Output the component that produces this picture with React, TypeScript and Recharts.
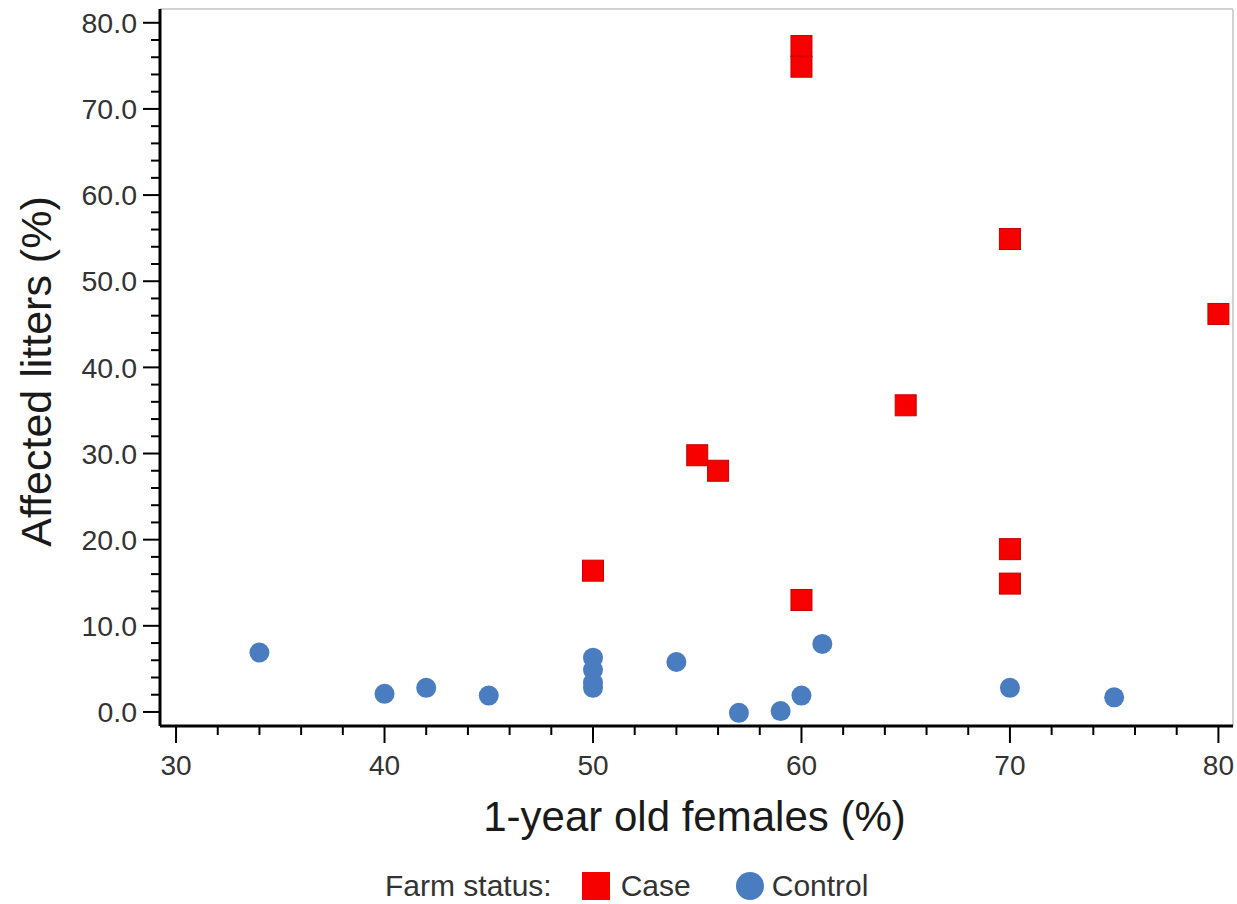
import React from 'react';
import {
  ReferenceLine,
  Scatter,
  ScatterChart,
  XAxis,
  YAxis,
} from 'recharts';

// farm status: case
const caseX = [60, 60, 70, 80, 65, 55, 56, 50, 60, 70, 70];
const caseY = [77.3, 74.9, 54.9, 46.2, 35.6, 29.8, 28.0, 16.4, 13.0, 18.9, 14.9];

// farm status: control
const controlX = [34, 40, 42, 45, 50, 50, 50, 50, 54, 57, 59, 60, 61, 70, 75];
const controlY = [6.9, 2.1, 2.8, 1.9, 6.3, 4.9, 3.4, 2.8, 5.8, -0.1, 0.1, 1.9, 7.9, 2.8, 1.7];

const xTicks = [30, 32, 34, 36, 38, 40, 42, 44, 46, 48, 50, 52, 54, 56, 58, 60, 62, 64, 66, 68, 70, 72, 74, 76, 78, 80];
const yTicks = [0, 2, 4, 6, 8, 10, 12, 14, 16, 18, 20, 22, 24, 26, 28, 30, 32, 34, 36, 38, 40, 42, 44, 46, 48, 50, 52, 54, 56, 58, 60, 62, 64, 66, 68, 70, 72, 74, 76, 78, 80];

const X_DOMAIN: [number, number] = [29.23, 80.7];
const Y_DOMAIN: [number, number] = [-1.63, 81.6];

const FONT = '"Liberation Sans", Arial, sans-serif';
const RED = '#f60000';
const BLUE = '#4a7cc0';

const caseData = caseX.map((x, i) => ({ x, y: caseY[i] }));
const controlData = controlX.map((x, i) => ({ x, y: controlY[i] }));

const XTick = (props: any) => {
  const { x, y, payload } = props;
  const major = payload.value % 10 === 0;
  return (
    <g>
      <line x1={x} x2={x} y1={y} y2={y + (major ? 17 : 9)} stroke="#000" strokeWidth={2} />
      {major && (
        <text x={x} y={y + 49} textAnchor="middle" fontSize={28} fill="#333" fontFamily={FONT}>
          {payload.value}
        </text>
      )}
    </g>
  );
};

const YTick = (props: any) => {
  const { x, y, payload } = props;
  const major = payload.value % 10 === 0;
  return (
    <g>
      <line x1={x - (major ? 17 : 9)} x2={x} y1={y} y2={y} stroke="#000" strokeWidth={2} />
      {major && (
        <text x={x - 23} y={y} dy="0.36em" textAnchor="end" fontSize={28.5} fill="#333" fontFamily={FONT}>
          {payload.value.toFixed(1)}
        </text>
      )}
    </g>
  );
};

const squareShape = (p: any) => (
  <rect x={p.cx - 10.5} y={p.cy - 10.5} width={21} height={21} fill={RED} stroke="#c80000" strokeWidth={1} />
);

const circleShape = (p: any) => <circle cx={p.cx} cy={p.cy} r={10} fill={BLUE} />;

export default function App() {
  return (
    <div style={{ position: 'absolute', left: 0, top: 0, width: 1237, height: 904, background: '#fff' }}>
      <ScatterChart width={1237} height={904} margin={{ top: 9, right: 4, bottom: 78, left: 0 }}>
        <XAxis
          type="number"
          dataKey="x"
          domain={X_DOMAIN}
          ticks={xTicks}
          interval={0}
          allowDataOverflow
          height={100}
          tickSize={0}
          tickMargin={0}
          tickLine={false}
          axisLine={{ stroke: '#000', strokeWidth: 3 }}
          tick={<XTick />}
          label={{
            content: ({ viewBox }: any) => (
              <text
                x={viewBox.x + viewBox.width / 2 - 2}
                y={viewBox.y + 105}
                textAnchor="middle"
                fontSize={42}
                fill="#1a1a1a"
                fontFamily={FONT}
              >
                1-year old females (%)
              </text>
            ),
          }}
        />
        <YAxis
          type="number"
          dataKey="y"
          domain={Y_DOMAIN}
          ticks={yTicks}
          interval={0}
          allowDataOverflow
          width={160}
          tickSize={0}
          tickMargin={0}
          tickLine={false}
          axisLine={{ stroke: '#000', strokeWidth: 3 }}
          tick={<YTick />}
          label={{
            content: ({ viewBox }: any) => {
              const cy = viewBox.y + viewBox.height / 2 + 4;
              return (
                <text
                  x={51}
                  y={cy}
                  transform={`rotate(-90, 51, ${cy})`}
                  textAnchor="middle"
                  fontSize={43}
                  fill="#1a1a1a"
                  fontFamily={FONT}
                >
                  Affected litters (%)
                </text>
              );
            },
          }}
        />
        <ReferenceLine y={Y_DOMAIN[1]} stroke="#d2d2d2" strokeWidth={2} />
        <ReferenceLine x={X_DOMAIN[1]} stroke="#d2d2d2" strokeWidth={2} />
        <Scatter name="Case" data={caseData} shape={squareShape} isAnimationActive={false} />
        <Scatter name="Control" data={controlData} shape={circleShape} isAnimationActive={false} />
      </ScatterChart>
      <div
        style={{
          position: 'absolute',
          left: 385,
          top: 867,
          height: 38,
          display: 'flex',
          alignItems: 'center',
          fontFamily: FONT,
          fontSize: 30,
          color: '#333',
          whiteSpace: 'nowrap',
        }}
      >
        <span>Farm status:</span>
        <span style={{ display: 'inline-block', width: 28, height: 28, background: RED, marginLeft: 30, marginRight: 11 }} />
        <span>Case</span>
        <span style={{ display: 'inline-block', width: 28, height: 28, borderRadius: '50%', background: BLUE, marginLeft: 45, marginRight: 8 }} />
        <span>Control</span>
      </div>
    </div>
  );
}
